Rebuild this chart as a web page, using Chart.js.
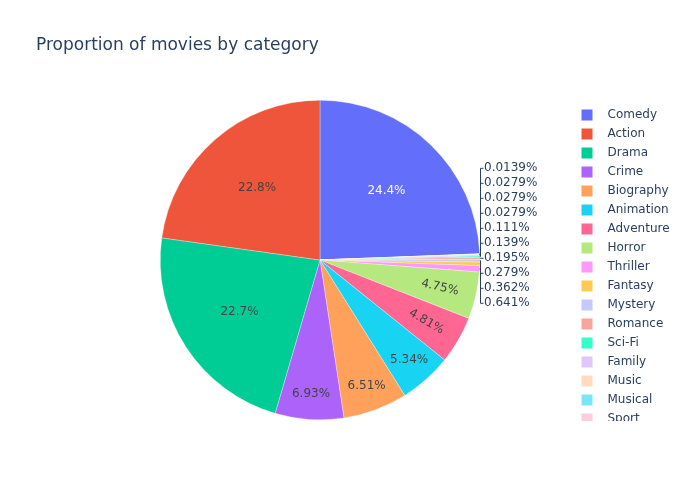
<!DOCTYPE html>
<html>
<head>
<meta charset="utf-8">
<style>html,body{margin:0;padding:0;background:#fff}</style>
</head>
<body>
<canvas id="pieChart" width="700" height="500"></canvas>
<script src="https://cdn.jsdelivr.net/npm/chart.js"></script>
<script>
// legend order (largest first)
const categories = ['Comedy', 'Action', 'Drama', 'Crime', 'Biography', 'Animation', 'Adventure', 'Horror',
    'Thriller', 'Fantasy', 'Mystery', 'Romance', 'Sci-Fi', 'Family', 'Music', 'Musical', 'Sport', 'Western'];
const shares = [24.4, 22.8, 22.7, 6.93, 6.51, 5.34, 4.81, 4.75,
    0.641, 0.362, 0.279, 0.195, 0.139, 0.111, 0.0279, 0.0279, 0.0279, 0.0139];
const colors = ['#636efa', '#EF553B', '#00cc96', '#ab63fa', '#FFA15A', '#19d3f3', '#FF6692', '#B6E880',
    '#FF97FF', '#FECB52', '#c6c9fd', '#f7a799', '#33ffc9', '#e0c6fd', '#ffdbc0', '#7ae6f8', '#ffccdb', '#e8f8d6'];

const titleText = 'Proportion of movies by category';
const FONT = '"DejaVu Sans", Verdana, sans-serif';
const TEXT = '#2a3f5f';

// plotly goes counterclockwise: first slice, then the rest reversed when drawn clockwise
const order = [0];
for (let i = categories.length - 1; i >= 1; i--) order.push(i);

function pctLabel(v) { return v.toPrecision(3) + '%'; }

function insideColor(hex) {
    let r = parseInt(hex.slice(1, 3), 16), g = parseInt(hex.slice(3, 5), 16), b = parseInt(hex.slice(5, 7), 16);
    return (r * 299 + g * 587 + b * 114) / 1000 > 128 ? '#444' : '#fff';
}

const piePlugin = {
    id: 'piePlugin',
    afterDatasetsDraw(chart) {
        const ctx = chart.ctx;
        const arcs = chart.getDatasetMeta(0).data;
        ctx.save();
        ctx.font = '12px ' + FONT;
        ctx.textBaseline = 'middle';

        let upper = [], lower = [];
        arcs.forEach((arc, k) => {
            const idx = order[k];
            const v = shares[idx];
            const mid = (arc.startAngle + arc.endAngle) / 2;
            const R = arc.outerRadius;
            if (v >= 1) {
                ctx.fillStyle = insideColor(colors[idx]);
                ctx.textAlign = 'center';
                if (v >= 5.3) {
                    const f = v > 15 ? 0.6 : 0.84;
                    ctx.fillText(pctLabel(v), arc.x + Math.cos(mid) * R * f, arc.y + Math.sin(mid) * R * f);
                } else {
                    const f = 0.77;
                    ctx.save();
                    ctx.translate(arc.x + Math.cos(mid) * R * f, arc.y + Math.sin(mid) * R * f);
                    let rot = mid;
                    if (Math.cos(mid) < 0) rot += Math.PI;
                    ctx.rotate(rot);
                    ctx.fillText(pctLabel(v), 0, 0);
                    ctx.restore();
                }
            } else {
                const item = {v: v, mid: mid, ex: arc.x + Math.cos(mid) * R, ey: arc.y + Math.sin(mid) * R,
                    lx: Math.round(arc.x + R) + 0.5};
                (Math.sin(mid) < 0 ? upper : lower).push(item);
            }
        });

        upper.sort((a, b) => b.mid - a.mid);
        lower.sort((a, b) => a.mid - b.mid);
        let prev = Infinity;
        upper.forEach(it => { it.ly = Math.min(it.ey, prev - 15); prev = it.ly; });
        prev = upper.length ? upper[0].ly : -Infinity;
        lower.forEach(it => { it.ly = Math.max(it.ey, prev + 15); prev = it.ly; });

        ctx.strokeStyle = TEXT;
        ctx.lineWidth = 1;
        ctx.fillStyle = TEXT;
        ctx.textAlign = 'left';
        upper.concat(lower).forEach(it => {
            ctx.beginPath();
            ctx.moveTo(it.ex, it.ey);
            ctx.lineTo(it.lx, it.ey);
            ctx.lineTo(it.lx, it.ly);
            ctx.lineTo(it.lx + 3, it.ly);
            ctx.stroke();
            ctx.fillText(pctLabel(it.v), it.lx + 3.5, it.ly);
        });
        ctx.restore();
    },
    afterDraw(chart) {
        const ctx = chart.ctx;
        ctx.save();
        ctx.fillStyle = TEXT;
        ctx.font = '17px ' + FONT;
        ctx.textAlign = 'left';
        ctx.textBaseline = 'alphabetic';
        ctx.fillText(titleText, 36, 50);

        // legend, clipped like plotly's scrolling box
        ctx.beginPath();
        ctx.rect(570, 100, 130, 321);
        ctx.clip();
        ctx.font = '12px ' + FONT;
        ctx.textBaseline = 'middle';
        categories.forEach((c, i) => {
            const y = 115 + i * 19;
            ctx.fillStyle = colors[i];
            ctx.fillRect(581.5, y - 5.5, 11, 11);
            ctx.fillStyle = TEXT;
            ctx.fillText(c, 607.5, y);
        });
        ctx.restore();
    }
};

new Chart(document.getElementById('pieChart').getContext('2d'), {
    type: 'pie',
    data: {
        labels: order.map(i => categories[i]),
        datasets: [{
            data: order.map(i => shares[i]),
            backgroundColor: order.map(i => colors[i]),
            borderColor: 'rgba(255,255,255,0.6)',
            borderWidth: 0.5
        }]
    },
    options: {
        responsive: false,
        animation: false,
        layout: {padding: {left: 160, right: 220, top: 100, bottom: 80}},
        plugins: {legend: {display: false}, tooltip: {enabled: false}, title: {display: false}}
    },
    plugins: [piePlugin]
});
</script>
</body>
</html>
